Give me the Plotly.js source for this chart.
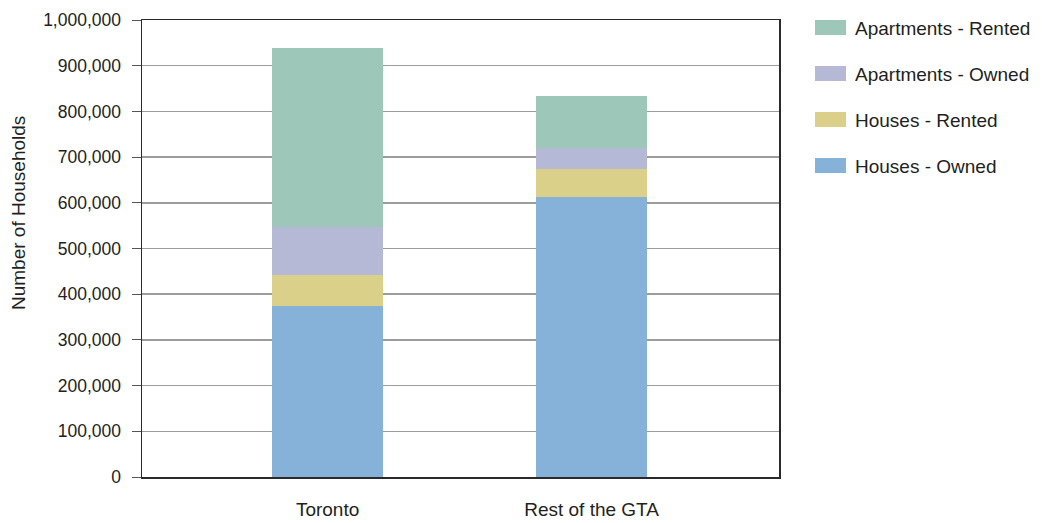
<!DOCTYPE html>
<html>
<head>
<meta charset="utf-8">
<script src="https://cdn.plot.ly/plotly-3.0.1.min.js"></script>
<style>
  html, body { margin: 0; padding: 0; background: #fff; }
  #chart { width: 1042px; height: 523px; }
</style>
</head>
<body>
<div id="chart"></div>
<script>
// Households by dwelling type and tenure
const regions = ['Toronto', 'Rest of the GTA'];
const housesOwned = [375000, 612000];
const housesRented = [68000, 62000];
const apartmentsOwned = [104000, 47000];
const apartmentsRented = [392000, 113000];

const seriesNames = ['Houses - Owned', 'Houses - Rented', 'Apartments - Owned', 'Apartments - Rented'];
const seriesValues = [housesOwned, housesRented, apartmentsOwned, apartmentsRented];
const seriesColors = ['#86b1d9', '#dbd08a', '#b5b9d6', '#9dc7b9'];

const yTicks = [0, 100000, 200000, 300000, 400000, 500000, 600000, 700000, 800000, 900000, 1000000];

const FONT = 'Liberation Sans, Arial, sans-serif';
const TEXT_COLOR = '#231f20';

const W = 1042, H = 523;
const M = { l: 142, r: 263, t: 20, b: 46 };
const plotW = W - M.l - M.r, plotH = H - M.t - M.b;
const px2x = px => (px - M.l) / plotW;
const py2y = py => (H - M.b - py) / plotH;

const traces = seriesNames.map((name, i) => ({
  type: 'bar',
  name: name,
  x: regions,
  y: seriesValues[i],
  width: 0.42,
  marker: { color: seriesColors[i], line: { width: 0 } },
  showlegend: false,
  hoverinfo: 'x+y+name'
}));

// Custom legend: wide swatches listed top-down in reverse stacking order
const shapes = [];
const annotations = [];
const legendOrder = [3, 2, 1, 0];
legendOrder.forEach((si, k) => {
  const cy = 27.5 + k * 46;
  shapes.push({
    type: 'rect', xref: 'paper', yref: 'paper',
    x0: px2x(815), x1: px2x(846), y0: py2y(cy + 7.5), y1: py2y(cy - 7.5),
    fillcolor: seriesColors[si], line: { width: 0 }
  });
  annotations.push({
    xref: 'paper', yref: 'paper', x: px2x(853), y: py2y(cy + 1),
    xanchor: 'left', yanchor: 'middle', showarrow: false,
    text: seriesNames[si],
    font: { family: FONT, size: 19, color: TEXT_COLOR }
  });
});

// Y axis title
annotations.push({
  xref: 'paper', yref: 'paper', x: px2x(19), y: py2y(213),
  xanchor: 'center', yanchor: 'middle', showarrow: false, textangle: -90,
  text: 'Number of Households',
  font: { family: FONT, size: 19, color: TEXT_COLOR }
});

const layout = {
  width: W, height: H,
  margin: M,
  barmode: 'stack',
  paper_bgcolor: '#ffffff',
  plot_bgcolor: '#ffffff',
  font: { family: FONT, size: 17, color: TEXT_COLOR },
  xaxis: {
    type: 'category',
    range: [-0.703, 1.71],
    showgrid: false,
    showline: true, mirror: true, linecolor: '#2a2a2a', linewidth: 1.5,
    ticks: '', ticklabelstandoff: 15,
    tickfont: { family: FONT, size: 19, color: TEXT_COLOR },
    zeroline: false, fixedrange: true
  },
  yaxis: {
    range: [0, 1000000],
    tickvals: yTicks,
    ticktext: yTicks.map(v => v.toLocaleString('en-US')),
    showgrid: true, gridcolor: '#9c9c9c', gridwidth: 1.5,
    showline: true, mirror: true, linecolor: '#2a2a2a', linewidth: 1.5,
    ticks: 'outside', ticklen: 9, tickcolor: '#555', tickwidth: 1,
    ticklabelstandoff: 7,
    tickfont: { family: FONT, size: 17.5, color: TEXT_COLOR },
    zeroline: false, fixedrange: true
  },
  shapes: shapes,
  annotations: annotations,
  showlegend: false
};

Plotly.newPlot('chart', traces, layout, { displayModeBar: false, staticPlot: true });
</script>
</body>
</html>
